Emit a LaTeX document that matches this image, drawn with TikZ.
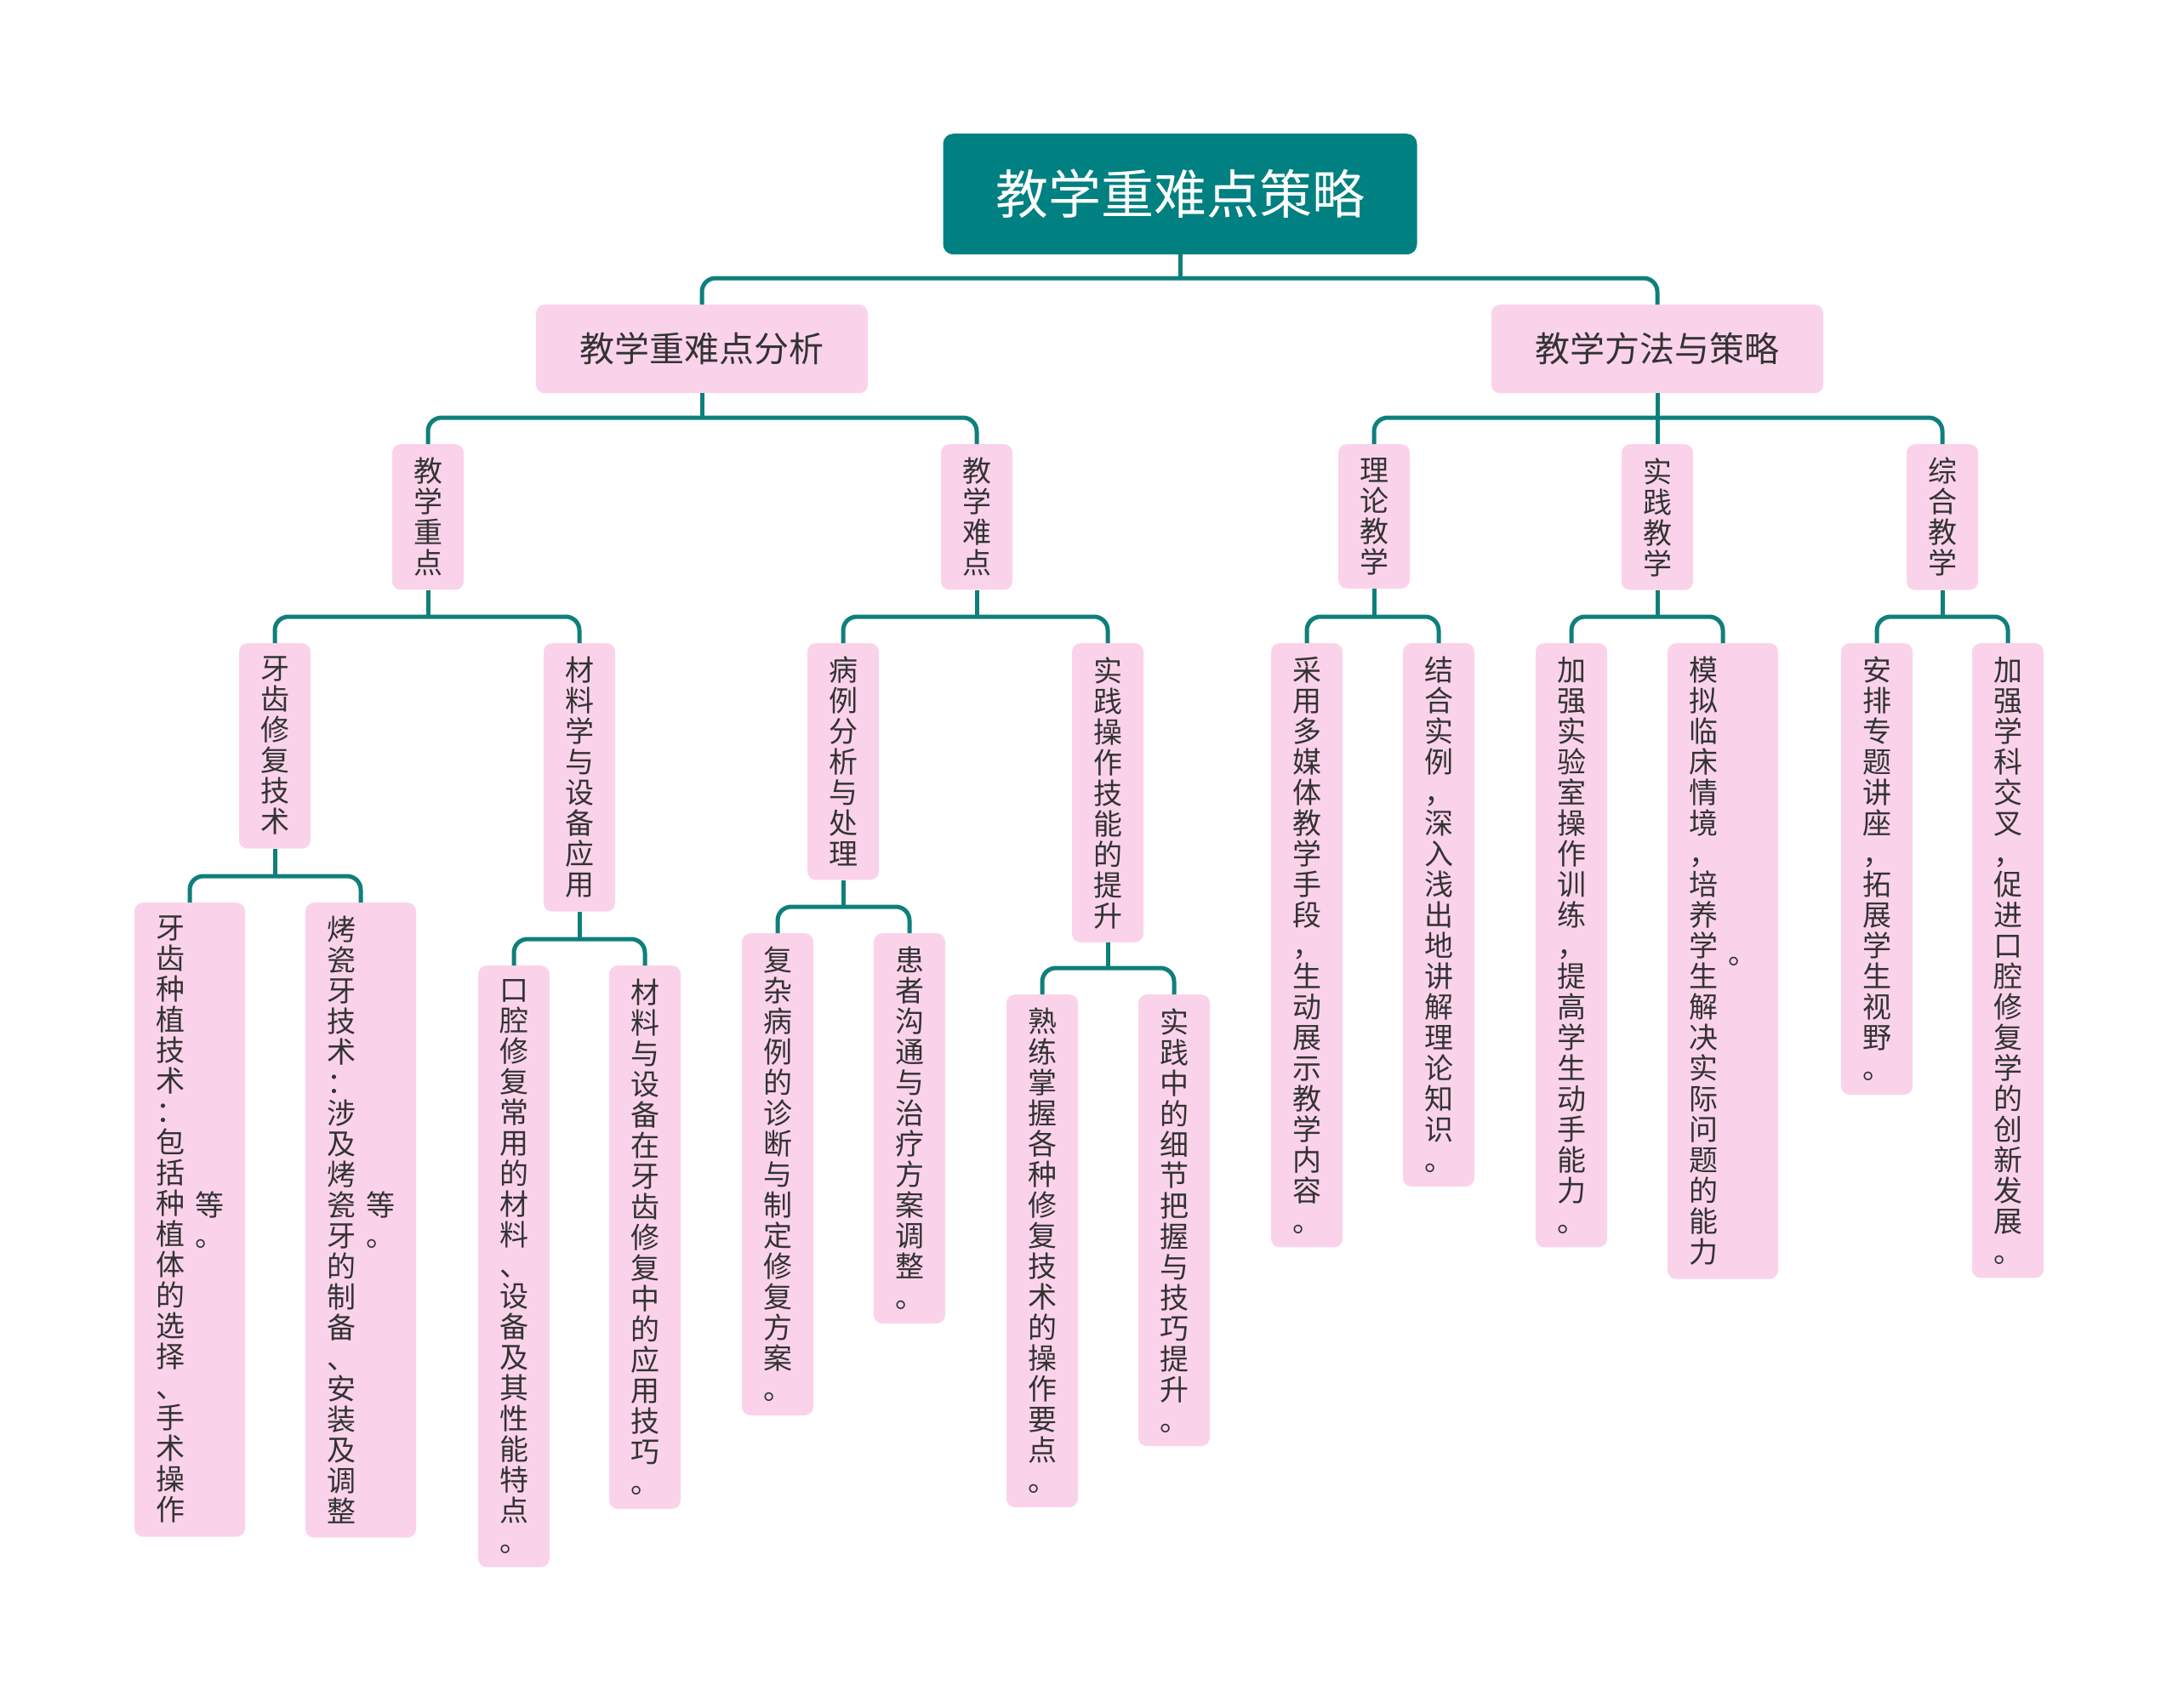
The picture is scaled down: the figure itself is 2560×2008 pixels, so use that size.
\documentclass[tikz,border=0pt]{standalone}
\usepackage{fontspec}
\newfontfamily\cjk{Noto Sans CJK SC}
\usepackage{tikz}
\usetikzlibrary{calc}

\definecolor{rootteal}{HTML}{008080}
\definecolor{linkteal}{HTML}{0E7F7C}
\definecolor{pinkfill}{HTML}{FAD3EB}
\definecolor{inkgray}{HTML}{333333}

% one character per row, rows stacked top to bottom
\makeatletter
\newcommand\colchars[1]{$\vcenter{\baselineskip=36pt\lineskiplimit=-100pt\lineskip=0pt\cc@loop#1\@nil}$}
\def\cc@loop#1{\ifx#1\@nil\else\hbox to 36pt{\hss#1\hss}\expandafter\cc@loop\fi}
\makeatother

\tikzset{
  rootbox/.style={rectangle,rounded corners=12pt,fill=rootteal,text=white,anchor=north,
                  minimum width=557pt,minimum height=142pt,inner sep=0pt,
                  font=\cjk\fontsize{62}{62}\selectfont},
  topic/.style={rectangle,rounded corners=10pt,fill=pinkfill,text=inkgray,anchor=north,
                minimum width=390pt,minimum height=104pt,inner sep=0pt,
                font=\cjk\fontsize{41}{41}\selectfont},
  vbox/.style={rectangle,rounded corners=10pt,fill=pinkfill,text=inkgray,anchor=north,
               inner xsep=24pt,inner ysep=16pt,font=\cjk\fontsize{34}{36}\selectfont},
  link/.style={draw=linkteal,line width=5pt},
}

\begin{document}
\begin{tikzpicture}[x=1pt,y=1pt]
  \fill[white] (0,0) rectangle (2560,-2008);
  \useasboundingbox (0,0) rectangle (2560,-2008);

  \node[rootbox] (root) at (1387,-157) {教学重难点策略};

  \node[topic] (ana)  at (825,-358)  {教学重难点分析};
  \node[topic] (meth) at (1948,-358) {教学方法与策略};

  \node[vbox] (key)  at (503,-522)  {\colchars{教学重点}};
  \node[vbox] (diff) at (1148,-522) {\colchars{教学难点}};
  \node[vbox] (theo) at (1615,-522) {\colchars{理论教学}};
  \node[vbox] (prac) at (1948,-522) {\colchars{实践教学}};
  \node[vbox] (comp) at (2283,-522) {\colchars{综合教学}};

  \node[vbox] (keyrep)    at (323,-756)  {\colchars{牙齿修复技术}};
  \node[vbox] (keymat)    at (681,-756)  {\colchars{材料学与设备应用}};
  \node[vbox] (diffcase)  at (991,-756)  {\colchars{病例分析与处理}};
  \node[vbox] (diffskill) at (1302,-756) {\colchars{实践操作技能的提升}};
  \node[vbox] (theomedia) at (1536,-756) {\colchars{采用多媒体教学手段，生动展示教学内容。}};
  \node[vbox] (theocase)  at (1691,-756) {\colchars{结合实例，深入浅出地讲解理论知识。}};
  \node[vbox] (praclab)   at (1847,-756) {\colchars{加强实验室操作训练，提高学生动手能力。}};
  \node[vbox] (pracclin)  at (2025,-756) {\colchars{模拟临床情境，培养学生解决实际问题的能力}\hspace{10pt}\colchars{。}};
  \node[vbox] (comptalk)  at (2206,-756) {\colchars{安排专题讲座，拓展学生视野。}};
  \node[vbox] (compcross) at (2360,-756) {\colchars{加强学科交叉，促进口腔修复学的创新发展。}};

  \node[vbox] (repimpl)   at (223,-1061)  {\colchars{牙齿种植技术：包括种植体的选择、手术操作}\hspace{10pt}\colchars{等。}};
  \node[vbox] (repporc)   at (424,-1061)  {\colchars{烤瓷牙技术：涉及烤瓷牙的制备、安装及调整}\hspace{10pt}\colchars{等。}};
  \node[vbox] (matcommon) at (604,-1135)  {\colchars{口腔修复常用的材料、设备及其性能特点。}};
  \node[vbox] (matapply)  at (758,-1135)  {\colchars{材料与设备在牙齿修复中的应用技巧。}};
  \node[vbox] (casediag)  at (914,-1097)  {\colchars{复杂病例的诊断与制定修复方案。}};
  \node[vbox] (casecomm)  at (1069,-1097) {\colchars{患者沟通与治疗方案调整。}};
  \node[vbox] (skillop)   at (1225,-1169) {\colchars{熟练掌握各种修复技术的操作要点。}};
  \node[vbox] (skilldet)  at (1380,-1169) {\colchars{实践中的细节把握与技巧提升。}};

  % elbow connectors: stub down from parent, then across and down to child
  \foreach \p/\c in {root/ana,root/meth,
                     ana/key,ana/diff,meth/theo,meth/prac,meth/comp,
                     key/keyrep,key/keymat,diff/diffcase,diff/diffskill,
                     theo/theomedia,theo/theocase,prac/praclab,prac/pracclin,
                     comp/comptalk,comp/compcross,
                     keyrep/repimpl,keyrep/repporc,keymat/matcommon,keymat/matapply,
                     diffcase/casediag,diffcase/casecomm,diffskill/skillop,diffskill/skilldet}{
    \draw[link] (\p.south) -- ($(\p.south |- \c.north)+(0,31)$);
    \draw[link,rounded corners=16pt] ($(\p.south |- \c.north)+(0,31)$) -| (\c.north);
  }
\end{tikzpicture}
\end{document}
